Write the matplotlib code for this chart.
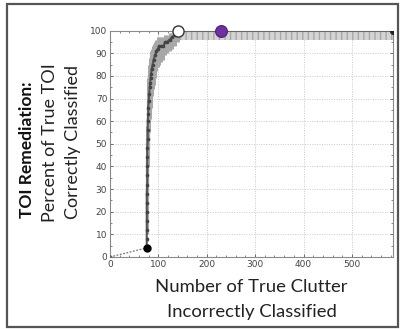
import matplotlib
matplotlib.use("Agg")
import matplotlib.pyplot as plt
from matplotlib.patches import Rectangle
from matplotlib.ticker import MultipleLocator

# ROC-like data: clutter incorrectly classified vs % TOI correctly classified
clutter = [76, 76, 76, 76, 76, 76, 76, 77, 77, 77, 77, 77, 78, 78, 78, 79, 79, 80,
           81, 82, 83, 84, 85, 86, 88, 90, 93, 96, 99, 101, 105, 110, 114, 118,
           123, 128, 134, 140]
pct_toi = [4, 8, 12, 16, 20, 24, 28, 32, 36, 40, 44, 48, 52, 56, 60, 63, 66, 69,
           72, 75, 77, 79, 81, 83, 85, 87, 89, 91, 92, 93, 93, 93, 95, 95,
           96, 97, 98, 100]
err_low = [4, 7, 10, 13, 16, 19, 22, 25, 28, 31, 34, 37, 40, 43, 46, 49, 52, 55,
           58, 61, 63, 66, 69, 71, 74, 76, 79, 82, 84, 85, 86, 87, 89, 90,
           91, 92, 93, 95]
err_high = [4, 9, 14, 19, 24, 29, 34, 39, 44, 49, 54, 58, 63, 67, 72, 76, 79, 82,
            85, 87, 88, 90, 91, 92, 93, 94, 95, 96, 97, 97, 97, 97, 98, 98,
            99, 99, 100, 100]
start_pt = (0, 0)
end_clutter = 585
plateau_low = 96
white_pt = (140, 100)
purple_pt = (230, 100)

fig = plt.figure(figsize=(4.0, 3.29), dpi=100)
ax = fig.add_axes([0.275, 0.219, 0.7075, 0.688])

# outer frame
fig.patches.append(Rectangle((0.018, 0.006), 0.977, 0.982, transform=fig.transFigure,
                             fill=False, edgecolor="#555555", linewidth=1.6))

# plateau band of error bars
ax.fill_between([white_pt[0], end_clutter], [plateau_low, plateau_low], [100, 100],
                facecolor="#d4d4d4", edgecolor="#a8a8a8", hatch="|||", linewidth=0, zorder=2)

# error bars on the rising part
lo = [p - l for p, l in zip(pct_toi, err_low)]
hi = [h - p for p, h in zip(pct_toi, err_high)]
ax.errorbar(clutter, pct_toi, yerr=[lo, hi], fmt="none", ecolor="#a8a8a8",
            elinewidth=2.2, capsize=0, zorder=2)

# dotted start segment
ax.plot([start_pt[0], clutter[0]], [start_pt[1], pct_toi[0]], linestyle=(0, (1.5, 1.2)),
        color="#777777", linewidth=0.9, zorder=3)
# main curve
xs = clutter + [end_clutter]
ys = pct_toi + [100]
ax.plot(xs, ys, color="#555555", linewidth=1.5, marker="o", markersize=1.6,
        markerfacecolor="#444444", markeredgecolor="#444444", zorder=4)
ax.plot([start_pt[0]], [start_pt[1]], "o", color="#666666", markersize=2, zorder=5)
ax.plot([clutter[0]], [pct_toi[0]], "o", color="black", markersize=5, zorder=5)
ax.plot([end_clutter], [100], "o", color="#222222", markersize=4, zorder=5)
ax.plot([white_pt[0]], [white_pt[1]], "o", markerfacecolor="white", markeredgecolor="#333333",
        markersize=8, markeredgewidth=1.0, zorder=6, clip_on=False)
ax.plot([purple_pt[0]], [purple_pt[1]], "o", markerfacecolor="#7030a0", markeredgecolor="#4a1f70",
        markersize=8.5, markeredgewidth=0.8, zorder=6, clip_on=False)

ax.set_xlim(0, end_clutter)
ax.set_ylim(0, 100)
ax.xaxis.set_major_locator(MultipleLocator(100))
ax.xaxis.set_minor_locator(MultipleLocator(20))
ax.yaxis.set_major_locator(MultipleLocator(10))
ax.yaxis.set_minor_locator(MultipleLocator(5))
ax.tick_params(which="both", direction="in", top=True, right=True, colors="#555555",
               labelsize=6.5, labelcolor="#444444", pad=2)
ax.tick_params(which="major", length=2.5, width=0.6)
ax.tick_params(which="minor", length=1.5, width=0.5)
for s in ax.spines.values():
    s.set_color("#8a8a8a")
    s.set_linewidth(0.8)
ax.grid(True, which="major", linestyle=(0, (1, 1.5)), color="#c8c8c8", linewidth=0.7)
ax.set_axisbelow(True)

fam = ["Lato", "DejaVu Sans"]
fig.text(0.0675, 0.544, "TOI Remediation:", rotation=90, ha="center", va="center",
         fontsize=12.5, fontweight="bold", family=fam, color="#111111")
fig.text(0.125, 0.567, "Percent of True TOI", rotation=90, ha="center", va="center",
         fontsize=13, family=fam, color="#222222")
fig.text(0.1825, 0.567, "Correctly Classified", rotation=90, ha="center", va="center",
         fontsize=13, family=fam, color="#222222")
fig.text(0.628, 0.128, "Number of True Clutter", ha="center", va="center",
         fontsize=13.3, family=fam, color="#222222")
fig.text(0.63, 0.052, "Incorrectly Classified", ha="center", va="center",
         fontsize=13.3, family=fam, color="#222222")

fig.savefig("out.png", dpi=100)
